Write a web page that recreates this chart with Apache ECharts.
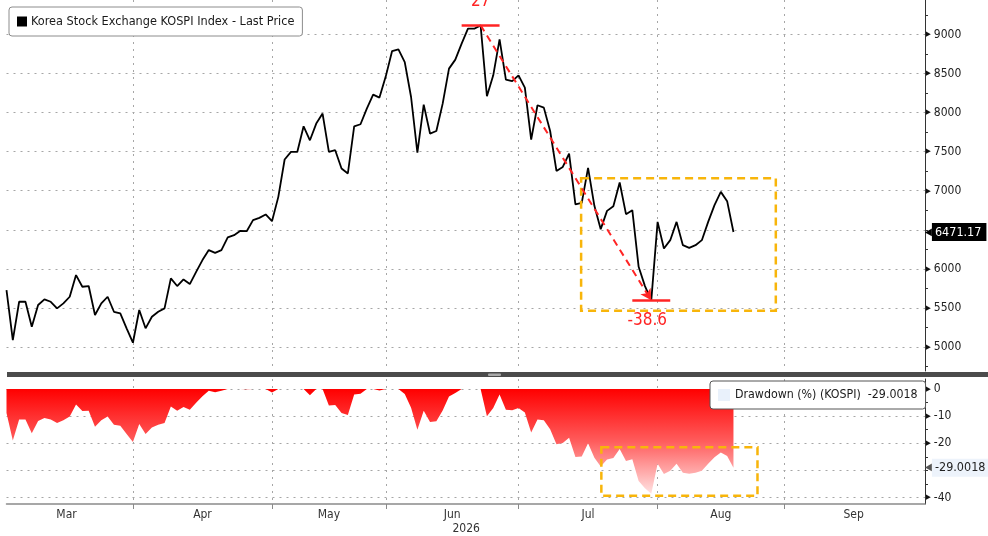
<!DOCTYPE html>
<html>
<head>
<meta charset="utf-8">
<script src="https://cdn.jsdelivr.net/npm/echarts@6/dist/echarts.min.js"></script>
<style>
  html, body { margin:0; padding:0; background:#fff; }
  #chart { width:988px; height:536px; }
</style>
</head>
<body>
<div id="chart"></div>
<script>
// KOSPI last price, one value per trading day from early March
const price = [
  5728, 5089, 5579, 5579, 5259, 5537, 5610, 5579, 5494, 5558,
  5643, 5920, 5771, 5780, 5409, 5558, 5643, 5451, 5431, 5239,
  5055, 5473, 5239, 5387, 5451, 5494, 5878, 5780, 5865, 5805,
  5962, 6112, 6240, 6205, 6240, 6402, 6431, 6486, 6482, 6623,
  6652, 6696, 6610, 6921, 7399, 7496, 7496, 7824, 7645, 7859,
  7987, 7496, 7518, 7284, 7220, 7824, 7850, 8050, 8229, 8191,
  8463, 8787, 8808, 8646, 8199, 7488, 8102, 7731, 7764, 8114,
  8562, 8677, 8881, 9073, 9073, 9115, 8208, 8476, 8936, 8421,
  8403, 8476, 8319, 7654, 8093, 8063, 7764, 7253, 7304, 7475,
  6824, 6844, 7291, 6806, 6508, 6742, 6802, 7105, 6700, 6751,
  6026, 5779, 5597, 6601, 6261, 6367, 6601, 6303, 6269, 6303,
  6367, 6601, 6815, 6985, 6866, 6471.17
];
// Drawdown (%) from running high, same days
const drawdown = [
  -8.8, -19.0, -11.2, -11.2, -16.3, -11.8, -10.7, -11.2, -12.5, -11.5,
  -10.1, -5.7, -8.1, -8.0, -13.9, -11.5, -10.1, -13.2, -13.5, -16.6,
  -19.5, -12.9, -16.6, -14.2, -13.2, -12.5, -6.4, -8.0, -6.6, -7.6,
  -5.1, -2.7, -0.6, -1.2, -0.6, 0, 0, 0, -0.1, 0,
  0, 0, -1.3, 0, 0, 0, 0, 0, -2.3, 0,
  0, -6.1, -5.9, -8.8, -9.6, -2.0, -1.7, 0, 0, -0.5,
  0, 0, 0, -1.8, -6.9, -15.0, -8.0, -12.2, -11.9, -7.9,
  -2.8, -1.5, 0, 0, 0, 0, -10.0, -7.0, -2.0, -7.6,
  -7.8, -7.0, -8.7, -16.0, -11.2, -11.5, -14.8, -20.4, -19.9, -18.0,
  -25.1, -24.9, -20.0, -25.3, -28.6, -26.0, -25.4, -22.1, -26.5, -25.9,
  -33.9, -36.6, -38.6, -27.6, -31.3, -30.1, -27.6, -30.9, -31.2, -30.9,
  -30.1, -27.6, -25.2, -23.4, -24.7, -29.0018
];
const months = ['Mar', 'Apr', 'May', 'Jun', 'Jul', 'Aug', 'Sep'];
const monthDays = [21, 22, 18, 21, 22, 20, 22];   // trading days per month
const yearLabel = '2026';
const yearMonth = 'Jun';
const priceTicks = [5000, 5500, 6000, 6500, 7000, 7500, 8000, 8500, 9000];
const priceLabels = [5000, 5500, 6000, 7000, 7500, 8000, 8500, 9000];
const priceMinor = [4750, 5250, 5750, 6250, 6750, 7250, 7750, 8250, 8750, 9250];
const ddTicks = [0, -10, -20, -30, -40];
const ddLabels = [0, -10, -20, -40];
const ddMinor = [-5, -15, -25, -35];
const lastDrawdown = -29.0018;
const peak = [75, 9115], trough = [102, 5597];
const peakText = '27', troughText = '-38.6';
const priceBox = [[90.9, 7160], [121.7, 5464]];
const ddBox = [[94.1, -21.5], [118.8, -39.4]];
const priceName = 'Korea Stock Exchange KOSPI Index - Last Price';
const ddName = 'Drawdown (%) (KOSPI)';

const FONT = "'DejaVu Sans Condensed', 'DejaVu Sans', sans-serif";
const RED = '#ff2424', ORANGE = '#f8b50a', GRID = '#a6a6a6', AXIS = '#333';
const X_MAX = 145.3;

let acc = -1;
const monthEnds = monthDays.map(d => (acc += d));
const labelPos = monthEnds.map((e, k) => ((k ? monthEnds[k - 1] : -1) + e) / 2);
const lastIdx = price.length - 1;
const lastPrice = price[lastIdx];

const dotted = { show:true, lineStyle:{ color:GRID, type:[2, 5], width:1 } };

function xAxisFor(grid, withLabels){
  return {
    type:'value', gridIndex:grid, min:0, max:X_MAX,
    axisLine:{ show:withLabels, onZero:false, lineStyle:{ color:'#8a8a8a', width:1.5 } },
    axisTick:{ show:withLabels, customValues:monthEnds.slice(0, -1), length:5,
      lineStyle:{ color:'#8a8a8a' } },
    axisLabel:{ show:withLabels, customValues:labelPos, margin:4, color:'#333',
      fontFamily:FONT, fontSize:11.5, lineHeight:14,
      formatter:v => {
        const m = months[labelPos.indexOf(v)] || '';
        return m === yearMonth ? '{m|' + m + '}\n{y|' + yearLabel + '}' : '{m|' + m + '}';
      },
      rich:{ m:{ fontFamily:FONT, fontSize:12, color:'#333' },
             y:{ fontFamily:FONT, fontSize:12, color:'#333', padding:[0, 0, 0, 28] } } },
    splitLine:dotted
  };
}

// visible right axis: line, triangle-marked labels, short ticks at every half step
function yAxisFor(grid, min, max, ticks, minor, labels){
  return {
    type:'value', gridIndex:grid, position:'right', min, max,
    axisLine:{ show:true, onZero:false, lineStyle:{ color:AXIS, width:1 } },
    axisTick:{ show:true, customValues:ticks.concat(minor), length:3, lineStyle:{ color:AXIS } },
    axisLabel:{ customValues:labels, margin:1, fontFamily:FONT,
      formatter:v => '{t|\u25B6}{v|' + v + '}',
      rich:{ t:{ fontSize:7, color:'#111', padding:[0, 3, 0, 0] },
             v:{ fontSize:12, color:'#222', fontFamily:FONT } } },
    splitLine:{ show:false }
  };
}

// hidden axis carrying the dotted grid lines at the major values
function gridAxis(grid, min, max, ticks){
  return {
    type:'value', gridIndex:grid, position:'left', min, max,
    axisLine:{ show:false, onZero:false }, axisLabel:{ show:false },
    axisTick:{ show:false, customValues:ticks },
    splitLine:dotted
  };
}

function tag(y, text, boxColor, textColor, tipColor){
  return [
    { coord:[lastIdx, y], lineStyle:{ color:'rgba(0,0,0,0)', width:0 },
      label:{ show:true, opacity:1, position:'end', distance:0,
        formatter:'{p|\u25C0}{v|' + text + '}',
        rich:{ p:{ fontSize:10, color:tipColor },
               v:{ fontSize:12.5, fontFamily:FONT, color:textColor,
                   backgroundColor:boxColor, padding:[3, 5, 2, 3] } } } },
    { coord:[X_MAX, y] }
  ];
}

const chart = echarts.init(document.getElementById('chart'), null, { renderer:'canvas' });
chart.setOption({
  animation:false,
  backgroundColor:'#fff',
  textStyle:{ fontFamily:FONT },
  grid:[
    { left:6.5, right:63, top:0, height:371 },
    { left:6.5, right:63, top:379, height:125 }
  ],
  legend:[
    { data:[priceName], left:9, top:7, selectedMode:false, icon:'rect',
      itemWidth:10, itemHeight:10, itemGap:4, padding:[8, 8, 8, 8],
      backgroundColor:'#fff', borderColor:'#8c8c8c', borderWidth:1, borderRadius:3,
      textStyle:{ fontFamily:FONT, fontSize:12.6, color:'#1a1a1a', padding:[0, 0, 0, -1] } },
    { data:[{ name:ddName, itemStyle:{ color:'#e9f1fb' } }], left:710, top:381,
      selectedMode:false, icon:'rect', itemWidth:12, itemHeight:12,
      padding:[8, 8, 8, 8], backgroundColor:'#fff', borderColor:'#555', borderWidth:1,
      borderRadius:3, formatter:n => n + '  ' + lastDrawdown,
      textStyle:{ fontFamily:FONT, fontSize:12.3, color:'#1a1a1a' } }
  ],
  xAxis:[ xAxisFor(0, false), xAxisFor(1, true) ],
  yAxis:[
    yAxisFor(0, 4693, 9440, priceTicks, priceMinor, priceLabels),
    gridAxis(0, 4693, 9440, priceTicks),
    yAxisFor(1, -42.4, 3.7, ddTicks, ddMinor, ddLabels),
    gridAxis(1, -42.4, 3.7, ddTicks)
  ],
  graphic:[
    { type:'rect', shape:{ x:7, y:372, width:981, height:5 }, style:{ fill:'#4b4b4b' }, silent:true },
    { type:'rect', shape:{ x:488, y:373.5, width:13, height:2.5, r:1 }, style:{ fill:'#a9a9a9' }, silent:true }
  ],
  series:[
    {
      name:priceName, type:'line', xAxisIndex:0, yAxisIndex:0,
      data:price.map((v, i) => [i, v]), showSymbol:false, symbol:'none',
      color:'#000', lineStyle:{ color:'#000', width:1.8 }, clip:false, z:3,
      markLine:{
        silent:true, symbol:'none', label:{ show:false }, z:6,
        data:[
          [{ coord:peak, lineStyle:{ color:RED, width:2, type:[7, 5] } },
           { coord:trough, symbol:'arrow', symbolSize:[9, 11] }],
          [{ coord:[peak[0] - 3, peak[1]], lineStyle:{ color:RED, width:2.5, type:'solid' } },
           { coord:[peak[0] + 3, peak[1]] }],
          [{ coord:[trough[0] - 3, trough[1]], lineStyle:{ color:RED, width:2.5, type:'solid' } },
           { coord:[trough[0] + 3, trough[1]] }],
          tag(lastPrice, lastPrice.toFixed(2), '#000', '#fff', '#000')
        ]
      },
      markPoint:{
        silent:true, symbol:'circle', symbolSize:0,
        data:[
          { coord:peak, label:{ show:true, position:'top', distance:15, formatter:peakText,
              color:RED, fontSize:17, fontFamily:FONT } },
          { coord:trough, label:{ show:true, position:'bottom', distance:12, offset:[-4, 0],
              formatter:troughText, color:RED, fontSize:17, fontFamily:FONT } }
        ]
      },
      markArea:{
        silent:true, z:6,
        itemStyle:{ color:'rgba(0,0,0,0)', borderColor:ORANGE, borderWidth:2.5, borderType:[8, 5] },
        data:[[ { coord:priceBox[0] }, { coord:priceBox[1] } ]]
      }
    },
    {
      name:ddName, type:'line', xAxisIndex:1, yAxisIndex:2,
      data:drawdown.map((v, i) => [i, v]), showSymbol:false, symbol:'none',
      lineStyle:{ width:0 }, clip:false, z:3,
      areaStyle:{ opacity:1, color:new echarts.graphic.LinearGradient(0, 0, 0, 1, [
        { offset:0, color:'#ff0000' },
        { offset:0.5, color:'#ff5c5c' },
        { offset:1, color:'#ffe2e2' }
      ]) },
      markLine:{
        silent:true, symbol:'none', label:{ show:false }, z:6,
        data:[ tag(lastDrawdown, String(lastDrawdown), '#edf3fb', '#222', '#555') ]
      },
      markArea:{
        silent:true, z:6,
        itemStyle:{ color:'rgba(0,0,0,0)', borderColor:ORANGE, borderWidth:2.5, borderType:[8, 5] },
        data:[[ { coord:ddBox[0] }, { coord:ddBox[1] } ]]
      }
    }
  ]
});
window.addEventListener('resize', () => chart.resize());
</script>
</body>
</html>
